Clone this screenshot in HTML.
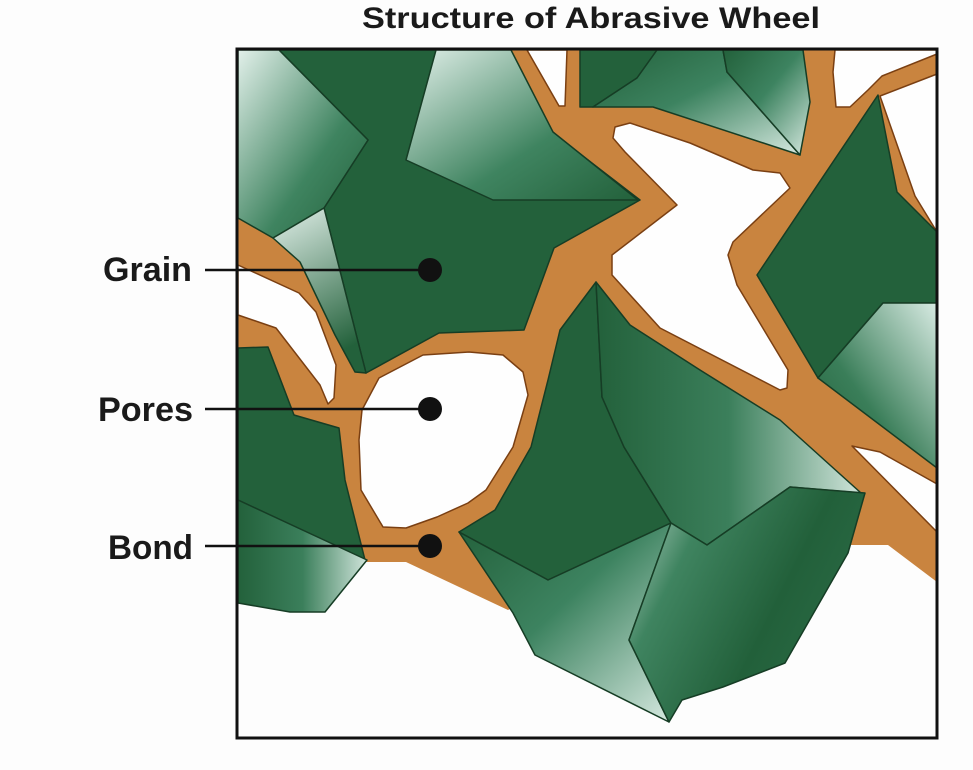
<!DOCTYPE html>
<html><head><meta charset="utf-8"><style>
html,body{margin:0;padding:0;background:#fff;}
svg{display:block;}
</style></head><body>
<svg width="973" height="770" viewBox="0 0 973 770" xmlns="http://www.w3.org/2000/svg">
<defs>
<linearGradient id="tl" x1="0" y1="0" x2="1" y2="1"><stop offset="0" stop-color="#e2f0ea"/><stop offset="0.6" stop-color="#3f8460"/><stop offset="1" stop-color="#23613b"/></linearGradient>
<linearGradient id="br" x1="0" y1="0" x2="1" y2="1"><stop offset="0" stop-color="#23613b"/><stop offset="0.45" stop-color="#3d8360"/><stop offset="1" stop-color="#d6e9e0"/></linearGradient>
<linearGradient id="t" x1="0" y1="0" x2="0.3" y2="1"><stop offset="0" stop-color="#e2f0ea"/><stop offset="1" stop-color="#23613b"/></linearGradient>
<linearGradient id="r" x1="0" y1="0" x2="1" y2="0"><stop offset="0" stop-color="#23613b"/><stop offset="0.5" stop-color="#3b7f5b"/><stop offset="1" stop-color="#cfe4da"/></linearGradient>
<linearGradient id="tr" x1="1" y1="0" x2="0" y2="1"><stop offset="0" stop-color="#d8ebe3"/><stop offset="0.6" stop-color="#3a7e59"/><stop offset="1" stop-color="#23613b"/></linearGradient>
<linearGradient id="g15" x1="0" y1="0" x2="1" y2="0.5"><stop offset="0" stop-color="#c5ddd2"/><stop offset="0.3" stop-color="#3f8460"/><stop offset="0.7" stop-color="#22603a"/><stop offset="1" stop-color="#2a6a45"/></linearGradient>
</defs>
<rect x="0" y="0" width="973" height="770" fill="#fdfdfd"/>
<text x="362" y="28" font-family="Liberation Sans, sans-serif" font-weight="bold" font-size="30" textLength="458" lengthAdjust="spacingAndGlyphs" fill="#1a1a1a">Structure of Abrasive Wheel</text>
<polygon points="238,50 937,50 937,582 888,545 850,545 760,520 600,560 508,610 406,562 238,562" fill="#c9843f"/>
<g fill="#fefefe" stroke="#7a3f12" stroke-width="1.5" stroke-linejoin="round">
<polygon points="527,50 567,50 565,106 559,106"/>
<polygon points="835,50 937,50 937,54 882,76 868,90 850,107 836,107 833,72"/>
<polygon points="880,96 937,74 937,232 915,196"/>
<polygon points="615,127 630,123 690,143 753,170 780,173 790,188 733,242 728,255 737,285 788,370 787,388 780,390 660,328 612,275 612,255 677,205 625,152 613,138"/>
<polygon points="238,265 299,293 316,312 336,365 334,398 328,404 320,385 276,328 238,315"/>
<polygon points="379,378 423,355 469,352 503,355 523,372 528,395 513,447 486,490 468,503 437,517 406,528 383,527 361,490 359,440 362,410"/>
<polygon points="852,446 880,452 937,484 937,532"/>
</g>
<g stroke="#163d25" stroke-width="1.5" stroke-linejoin="round">
<polygon points="279,50 445,50 640,200 554,248 524,330 439,333 366,373 324,208 368,140" fill="#23613b"/>
<polygon points="238,50 279,50 368,140 324,208 273,238 238,218" fill="url(#tl)"/>
<polygon points="436,50 511,50 553,132 638,200 493,200 406,160" fill="url(#tl)"/>
<polygon points="273,238 324,208 366,373 355,372 335,335 300,262" fill="url(#t)"/>
<polygon points="580,50 657,50 637,78 593,107 580,107" fill="#23613b"/>
<polygon points="657,50 723,50 727,72 800,155 653,107 593,107 637,78" fill="url(#br)"/>
<polygon points="723,50 803,50 810,102 800,155 727,72" fill="url(#br)"/>
<polygon points="878,95 897,192 937,232 937,303 883,303 818,378 757,275" fill="#23613b"/>
<polygon points="883,303 937,303 937,468 818,378" fill="url(#tr)"/>
<polygon points="238,348 268,347 294,415 339,428 345,480 365,560 238,500" fill="#23613b"/>
<polygon points="238,500 367,560 325,612 290,612 238,603" fill="url(#r)"/>
<polygon points="596,282 602,397 624,447 671,523 548,580 459,532 495,510 531,447 548,380 560,330" fill="#23613b"/>
<polygon points="596,282 630,325 700,370 780,420 861,493 790,487 707,545 671,523 624,447 602,397" fill="url(#r)"/>
<polygon points="459,532 548,580 671,523 629,640 669,722 535,655 513,613" fill="url(#br)"/>
<polygon points="671,523 707,545 790,487 865,493 848,553 785,663 723,687 682,700 669,722 629,640" fill="url(#g15)"/>
</g>
<rect x="237" y="49" width="700" height="689" fill="none" stroke="#111" stroke-width="3"/>
<g stroke="#111" stroke-width="2.5">
<line x1="205" y1="270" x2="430" y2="270"/>
<line x1="205" y1="409" x2="430" y2="409"/>
<line x1="205" y1="546" x2="430" y2="546"/>
</g>
<g fill="#111">
<circle cx="430" cy="270" r="12"/>
<circle cx="430" cy="409" r="12"/>
<circle cx="430" cy="546" r="12"/>
</g>
<g font-family="Liberation Sans, sans-serif" font-weight="bold" font-size="34" fill="#1a1a1a">
<text x="103" y="281" textLength="89" lengthAdjust="spacingAndGlyphs">Grain</text>
<text x="98" y="421" textLength="95" lengthAdjust="spacingAndGlyphs">Pores</text>
<text x="108" y="559" textLength="85" lengthAdjust="spacingAndGlyphs">Bond</text>
</g>
</svg>
</body></html>
